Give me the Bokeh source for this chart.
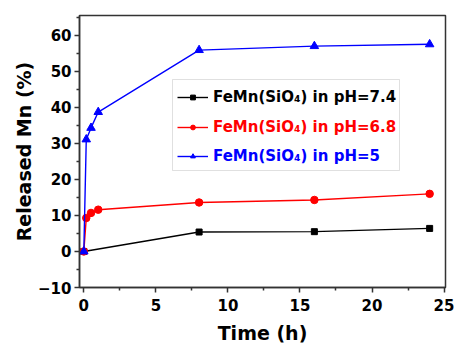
from bokeh.plotting import figure
from bokeh.models import Legend, LegendItem, BoxAnnotation, Range1d, FixedTicker
from bokeh.embed import file_html
from bokeh.resources import INLINE

# data
t_74 = [0, 8, 16, 24]
mn_74 = [0, 5.4, 5.5, 6.4]
t_68 = [0, 0.17, 0.5, 1, 8, 16, 24]
mn_68 = [0, 9.3, 10.7, 11.6, 13.6, 14.3, 16.0]
t_5 = [0, 0.17, 0.5, 1, 8, 16, 24]
mn_5 = [0, 31.1, 34.3, 38.7, 55.9, 57.0, 57.5]
labels = ["FeMn(SiO\u2084) in pH=7.4", "FeMn(SiO\u2084) in pH=6.8", "FeMn(SiO\u2084) in pH=5"]
colors = ["black", "#ff0000", "#0000ff"]
markers = ["square", "circle", "triangle"]
x_ticks = [0, 5, 10, 15, 20, 25]
y_ticks = [-10, 0, 10, 20, 30, 40, 50, 60]

FONT = "DejaVu Sans"

p = figure(width=456, height=348, output_backend="svg", toolbar_location=None,
           x_range=Range1d(-0.3, 25.1), y_range=Range1d(-10, 65.5),
           min_border_left=79, min_border_right=11, min_border_top=15, min_border_bottom=61)
p.grid.visible = False
p.background_fill_color = "white"
p.border_fill_color = "white"
p.outline_line_color = "#333333"
p.outline_line_width = 1.5

series = [(t_74, mn_74, 6), (t_68, mn_68, 7.5), (t_5, mn_5, 8.5)]
legend_renderers = []
for (t, m, sz), col, mk in zip(series, colors, markers):
    lr = p.line(t, m, color=col, line_width=1.4)
    sr = p.scatter(t, m, marker=mk, size=sz, color=col)
    legend_renderers.append([lr, sr])

for ax in (p.xaxis[0], p.yaxis[0]):
    ax.axis_line_color = "#333333"
    ax.axis_line_width = 1.5
    ax.major_tick_line_color = "#333333"
    ax.minor_tick_line_color = "#333333"
    ax.major_tick_line_width = 1.5
    ax.minor_tick_line_width = 1.5
    ax.major_tick_in = 0
    ax.major_tick_out = 5
    ax.minor_tick_in = 0
    ax.minor_tick_out = 3
    ax.major_label_text_font = FONT
    ax.major_label_text_font_style = "bold"
    ax.major_label_text_font_size = "15px"
    ax.major_label_text_color = "black"
    ax.axis_label_text_font = FONT
    ax.axis_label_text_font_style = "bold"
    ax.axis_label_text_font_size = "19px"
    ax.axis_label_text_color = "black"

p.xaxis.ticker = FixedTicker(ticks=x_ticks, minor_ticks=[2.5, 7.5, 12.5, 17.5, 22.5])
p.yaxis.ticker = FixedTicker(ticks=y_ticks, minor_ticks=[-5, 5, 15, 25, 35, 45, 55, 65])
p.xaxis.axis_label = "Time (h)"
p.yaxis.axis_label = "Released Mn (%)"
p.xaxis.major_label_standoff = 6
p.yaxis.major_label_standoff = 3
p.xaxis.axis_label_standoff = 8
p.yaxis.axis_label_standoff = 0

box = BoxAnnotation(left=93, right=320, bottom=117, top=208,
                    left_units="screen", right_units="screen",
                    top_units="screen", bottom_units="screen",
                    fill_color="white", fill_alpha=1.0,
                    line_color="#999999", line_width=1)
p.add_layout(box)

locs = [(98, 181), (98, 151), (98, 122)]
for lab, col, rr, loc in zip(labels, colors, legend_renderers, locs):
    lg = Legend(items=[LegendItem(label=lab, renderers=rr)], location=loc,
                padding=0, margin=0, border_line_alpha=0, background_fill_alpha=0,
                glyph_width=31, glyph_height=12, label_height=12, label_standoff=5,
                label_text_font=FONT, label_text_font_style="bold",
                label_text_font_size="15px", label_text_color=col)
    p.add_layout(lg)

open("out.html", "w").write(file_html(p, INLINE))
